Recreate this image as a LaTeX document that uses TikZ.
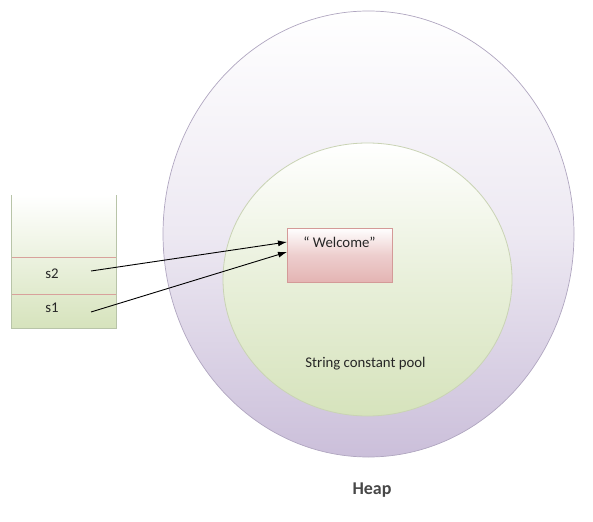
\documentclass[tikz,border=0pt]{standalone}
\usepackage{fontspec}
\setmainfont{Carlito}
\usetikzlibrary{shapes.geometric,arrows.meta,shadows}
\definecolor{heapc}{HTML}{CBBFDA}
\definecolor{heapline}{HTML}{B0A6C0}
\definecolor{poolc}{HTML}{D6E3BC}
\definecolor{poolline}{HTML}{C9D3B4}
\definecolor{boxc}{HTML}{E4B4B3}
\definecolor{boxline}{HTML}{D49A98}
\definecolor{divline}{HTML}{D8A19B}
\definecolor{stackline}{HTML}{B8C4A8}
\definecolor{txt}{HTML}{262626}
\tikzset{
  heapshape/.style={ellipse, inner sep=0pt, draw=heapline, line width=0.7pt, top color=white, bottom color=heapc, middle color=heapc!35!white},
  poolshape/.style={ellipse, inner sep=0pt, draw=poolline, line width=0.8pt, top color=white, bottom color=poolc, middle color=poolc!55!white},
  objbox/.style={rectangle, inner sep=0pt, draw=boxline, line width=0.6pt, top color=white, bottom color=boxc, middle color=boxc!65!white, drop shadow={shadow xshift=1pt, shadow yshift=-1pt, opacity=0.25}},
  stackbg/.style={rectangle, inner sep=0pt, top color=white, bottom color=poolc},
  lbl/.style={font=\fontsize{14.8}{16}\selectfont, text=txt, inner sep=0pt},
  ptr/.style={-{Latex[length=9pt,width=6pt]}, line width=0.9pt, black},
}
\begin{document}
\begin{tikzpicture}[x=1pt,y=-1pt]
\useasboundingbox (0,0) rectangle (593,521);
% heap
\node[heapshape, minimum width=411pt, minimum height=446pt] (heap) at (368.5,234) {};
\node[poolshape, minimum width=289pt, minimum height=273pt] (pool) at (367.5,279.5) {};
\node[lbl] (pooltxt) at (365.5,364) {String constant pool};
\node[objbox, minimum width=105pt, minimum height=54pt] (obj) at (339.5,255) {};
\node[lbl] (objtxt) at (339.5,242) {“ Welcome”};
\node[font=\bfseries\fontsize{18}{20}\selectfont, text=txt!85!white, inner sep=0pt] (heaptxt) at (372,490) {Heap};
% stack
\node[stackbg, minimum width=104pt, minimum height=133pt] (stack) at (64,261.5) {};
\draw[stackline, line width=0.8pt] (stack.north west) -- (stack.south west) -- (stack.south east) -- (stack.north east);
\coordinate (d1w) at (12,257); \coordinate (d1e) at (116,257);
\coordinate (d2w) at (12,294); \coordinate (d2e) at (116,294);
\draw[divline, line width=0.6pt] (d1w) -- (d1e);
\draw[divline, line width=0.6pt] (d2w) -- (d2e);
\node[lbl] (s2) at (52,274) {s2};
\node[lbl] (s1) at (52,307.5) {s1};
% pointers
\coordinate (p2) at (91,271);
\coordinate (p1) at (91,312);
\coordinate (e2) at (287,242);
\coordinate (e1) at (287,252);
\draw[ptr] (p2) -- (e2);
\draw[ptr] (p1) -- (e1);
\end{tikzpicture}
\end{document}
